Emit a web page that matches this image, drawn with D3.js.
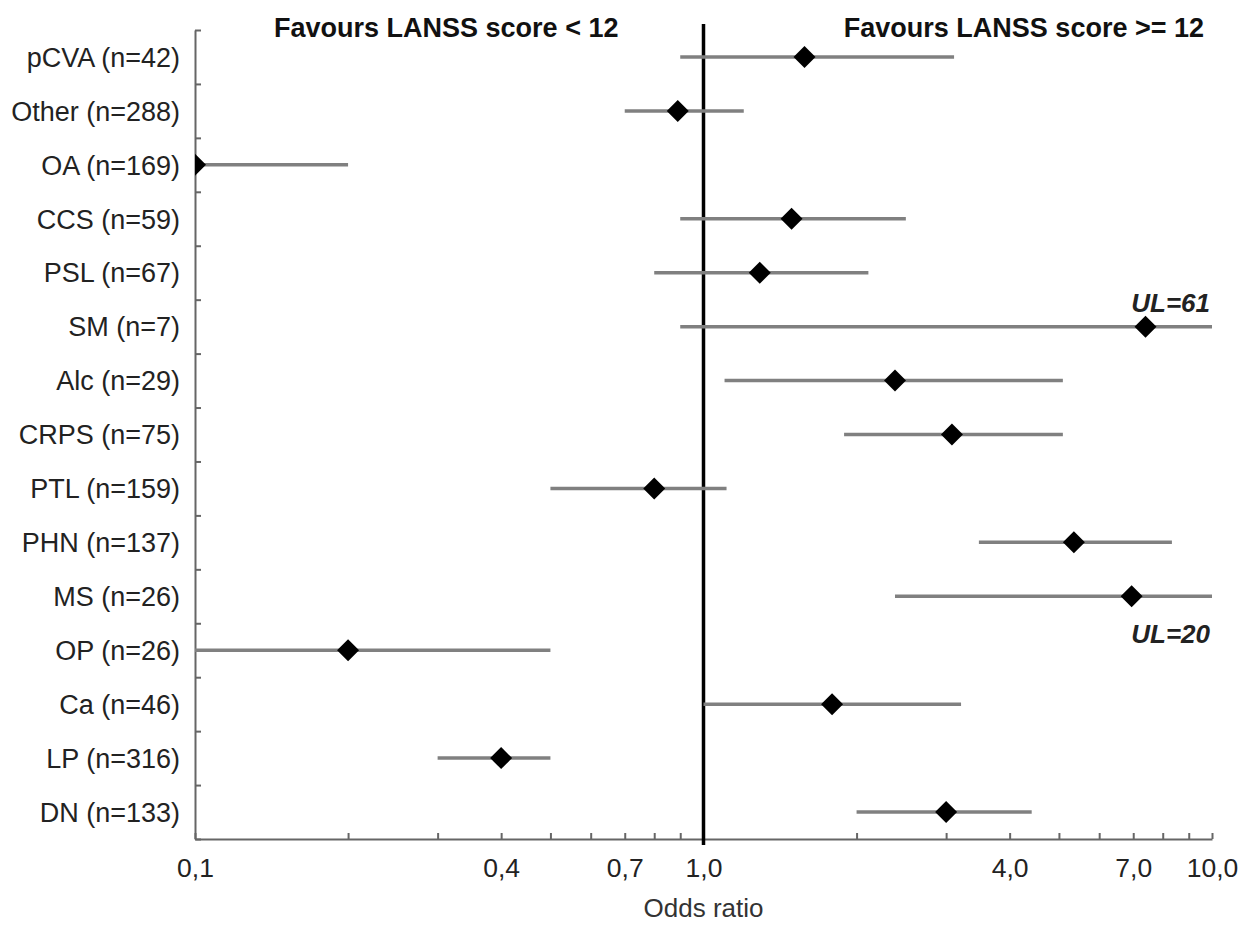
<!DOCTYPE html>
<html>
<head>
<meta charset="utf-8">
<script src="https://cdn.jsdelivr.net/npm/d3@7"></script>
<style>
  body { margin: 0; background: #fff; }
  svg { display: block; font-family: 'Liberation Sans', Arial, sans-serif; }
  .ci-line { stroke: #808080; stroke-width: 3.5; }
  .diamond { fill: #000; }
  .ref-line { stroke: #000; stroke-width: 3.5; }
  .axis path, .axis line { stroke: #666; stroke-width: 2; }
  .row-label { font-size: 27px; fill: #222; }
  .tick-label { font-size: 26.5px; fill: #222; }
  .header { font-size: 27px; font-weight: bold; fill: #111; }
  .ul-label { font-size: 26px; font-weight: bold; font-style: italic; fill: #222; }
  .axis-title { font-size: 26px; fill: #333; }
</style>
</head>
<body>
<svg width="1242" height="926"></svg>
<script>
// rows, top to bottom
const labels = ['pCVA (n=42)', 'Other (n=288)', 'OA (n=169)', 'CCS (n=59)', 'PSL (n=67)',
  'SM (n=7)', 'Alc (n=29)', 'CRPS (n=75)', 'PTL (n=159)', 'PHN (n=137)',
  'MS (n=26)', 'OP (n=26)', 'Ca (n=46)', 'LP (n=316)', 'DN (n=133)']
// odds ratio + 95% CI (lower of 0.1 = cut at the axis)
const oddsRatio = [1.58, 0.89, 0.10, 1.49, 1.29, 7.4, 2.38, 3.08, 0.80, 5.35, 6.95, 0.20, 1.79, 0.40, 3.0]
const lower = [0.90, 0.70, 0.10, 0.90, 0.80, 0.90, 1.10, 1.89, 0.50, 3.48, 2.38, 0.10, 1.0, 0.30, 2.0]
const upper = [3.11, 1.20, 0.20, 2.50, 2.11, 61, 5.09, 5.09, 1.11, 8.34, 20, 0.50, 3.21, 0.50, 4.42]

// x axis ticks
const tickValues = [0.1, 0.2, 0.3, 0.4, 0.5, 0.6, 0.7, 0.8, 0.9, 1, 2, 3, 4, 5, 6, 7, 8, 9, 10]
const tickLabels = [0.1, 0.4, 0.7, 1, 4, 7, 10]

const headerLeft = 'Favours LANSS score < 12'
const headerRight = 'Favours LANSS score >= 12'
const axisTitle = 'Odds ratio'

const data = labels.map((d, i) => {
  return { label: d, or: oddsRatio[i], lo: lower[i], hi: upper[i] }
})

const svg = d3.select('svg')

// NOTE: 'top' clashes with window.top
const plotTop = 30, plotBottom = 839

// scales
const x = d3.scaleLog()
  .domain([0.1, 10])
  .range([195, 1212])
  .clamp(true)

const y = d3.scaleBand()
  .domain(labels)
  .range([plotTop, plotBottom])

// row boundaries for the little ticks on the left axis
const yEdge = d3.scaleLinear()
  .domain([0, labels.length])
  .range([plotTop, plotBottom])

// comma decimal like the original
const locale = d3.formatLocale({ decimal: ',', thousands: '.', grouping: [3], currency: ['', ''] })
const fmt = locale.format('.1f')

// clip only in x (diamonds at 0.1 are cut in half by the axis)
svg.append('clipPath')
  .attr('id', 'plot-clip')
  .append('rect')
  .attr('x', x.range()[0])
  .attr('y', -100)
  .attr('width', x.range()[1] - x.range()[0] + 2)
  .attr('height', 1100)

// left axis with boundary ticks
svg.append('g')
  .attr('class', 'axis')
  .attr('transform', `translate(${x.range()[0]},0)`)
  .call(d3.axisLeft(yEdge)
    .tickValues(d3.range(0, labels.length + 1))
    .tickSize(-6)
    .tickSizeOuter(0)
    .tickFormat(''))

// row labels
svg.append('g')
  .attr('transform', `translate(${x.range()[0]},0)`)
  .call(d3.axisLeft(y).tickSize(0).tickPadding(15))
  .call(g => g.select('.domain').remove())
  .selectAll('text')
  .attr('class', 'row-label')
  .attr('dy', '0.36em')

// bottom axis
const xAxis = svg.append('g')
  .attr('class', 'axis')
  .attr('transform', `translate(0,${plotBottom})`)
  .call(d3.axisBottom(x)
    .tickValues(tickValues)
    .tickSize(-6)
    .tickSizeOuter(0)
    .tickPadding(19)
    .tickFormat(d => tickLabels.includes(d) ? fmt(d) : ''))

xAxis.selectAll('text')
  .attr('class', 'tick-label')

// reference line at OR = 1
svg.append('line')
  .attr('class', 'ref-line')
  .attr('x1', x(1))
  .attr('x2', x(1))
  .attr('y1', 24)
  .attr('y2', plotBottom + 6)

// confidence intervals + point estimates
const rows = svg.selectAll('g.row')
  .data(data)
  .enter()
  .append('g')
  .attr('class', 'row')
  .attr('transform', d => `translate(0, ${y(d.label) + y.bandwidth() / 2})`)

rows.append('line')
  .attr('class', 'ci-line')
  .attr('x1', d => x(d.lo))
  .attr('x2', d => x(d.hi))
  .attr('y1', 0)
  .attr('y2', 0)

const r = 11
rows.append('g')
  .attr('clip-path', 'url(#plot-clip)')
  .append('path')
  .attr('class', 'diamond')
  .attr('transform', d => `translate(${x(d.or)},0)`)
  .attr('d', `M0,${-r}L${r},0L0,${r}L${-r},0Z`)

// upper limits beyond the axis
rows.filter(d => d.hi > x.domain()[1])
  .append('text')
  .attr('class', 'ul-label')
  .attr('x', x(10) - 2)
  .attr('y', d => d.label.startsWith('SM') ? -15 : 47)
  .style('text-anchor', 'end')
  .text(d => `UL=${d.hi}`)

// headers
svg.append('text')
  .attr('class', 'header')
  .attr('x', (x(0.1) + x(1)) / 2 - 3)
  .attr('y', 37)
  .style('text-anchor', 'middle')
  .text(headerLeft)

svg.append('text')
  .attr('class', 'header')
  .attr('x', x(10) - 8)
  .attr('y', 37)
  .style('text-anchor', 'end')
  .text(headerRight)

svg.append('text')
  .attr('class', 'axis-title')
  .attr('x', x(1))
  .attr('y', 917)
  .style('text-anchor', 'middle')
  .text(axisTitle)
</script>
</body>
</html>
